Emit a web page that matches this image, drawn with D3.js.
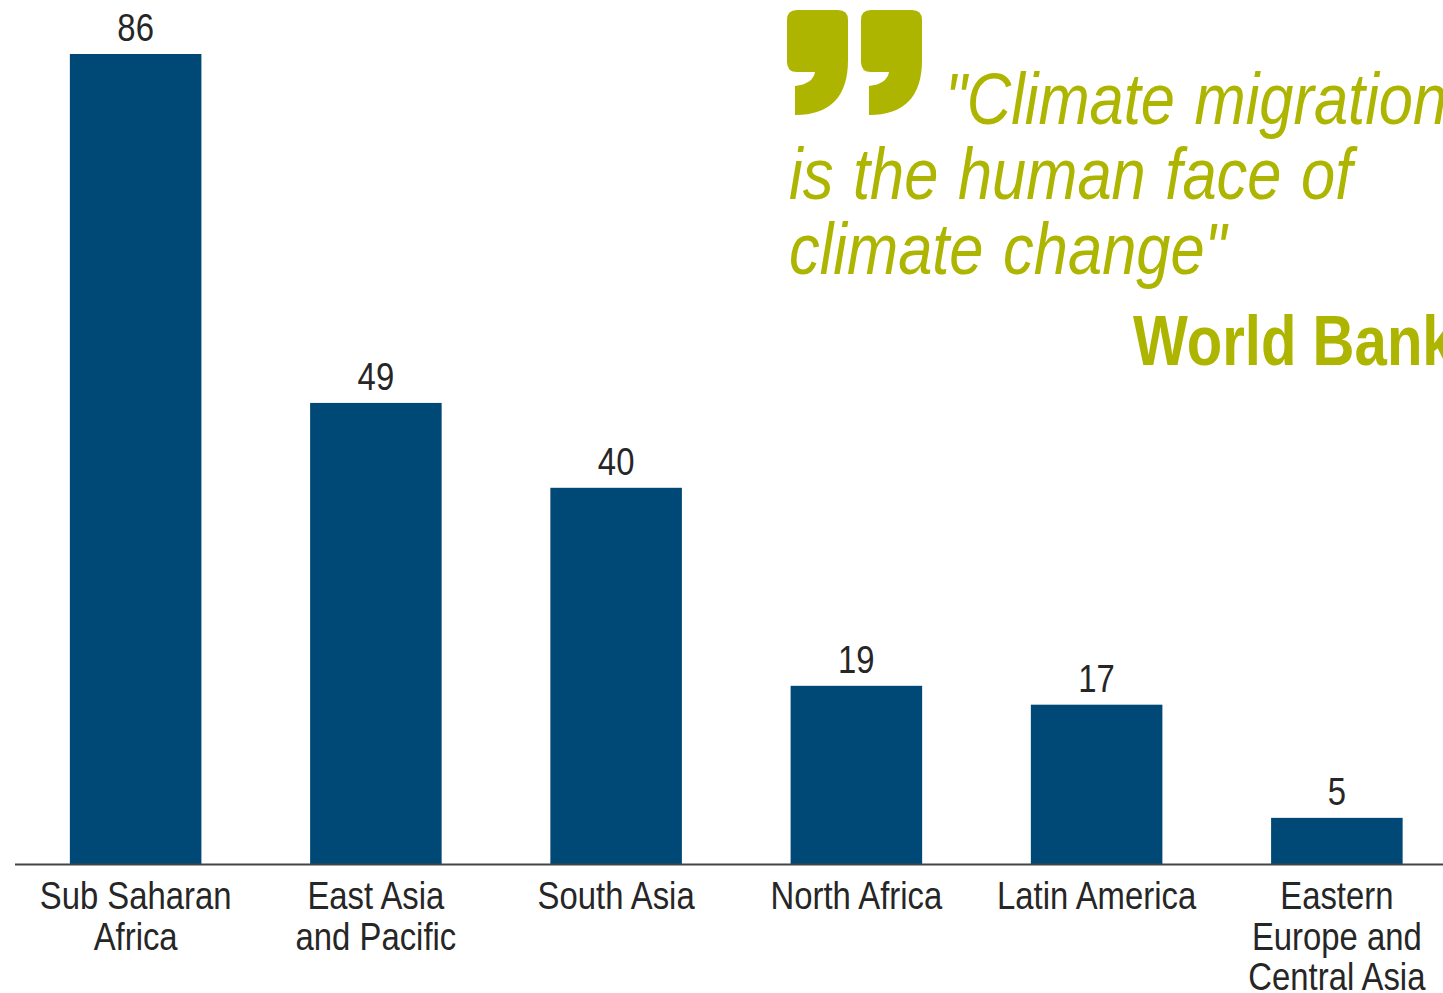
<!DOCTYPE html>
<html>
<head>
<meta charset="utf-8">
<script src="https://cdn.jsdelivr.net/npm/d3@7"></script>
<style>
html, body { margin: 0; padding: 0; background: #fff; overflow: hidden; }
svg { display: block; }
text { font-family: "Liberation Sans", Arial, sans-serif; }
</style>
</head>
<body>
<svg width="1443" height="993"></svg>
<script>
const regions = [
    ["Sub Saharan", "Africa"],
    ["East Asia", "and Pacific"],
    ["South Asia"],
    ["North Africa"],
    ["Latin America"],
    ["Eastern", "Europe and", "Central Asia"]
];
const migrants = [86, 49, 40, 19, 17, 5];
const quoteLines = ["\"Climate migration", "is the human face of", "climate change\""];
const quoteSource = "World Bank";

const svg = d3.select("svg");
const blue = "#004876", green = "#adb500", ink = "#262626";

const x = d3.scaleBand().domain(d3.range(regions.length)).range([15.5, 1457]).paddingInner(0.4525).paddingOuter(0.2263);
const y = d3.scaleLinear().domain([0, 86]).range([865, 54]);

svg.selectAll("rect.bar")
    .data(migrants)
    .enter()
    .append("rect")
    .attr("class", "bar")
    .attr("x", (d, i) => x(i))
    .attr("y", d => y(d))
    .attr("width", x.bandwidth())
    .attr("height", d => y(0) - y(d))
    .attr("fill", blue);

svg.append("line")
    .attr("x1", 15).attr("x2", 1443)
    .attr("y1", 864.5).attr("y2", 864.5)
    .attr("stroke", "#444").attr("stroke-width", 2);

function narrow(sel, sx) {
    // the source type is condensed, so squeeze a regular face sideways
    sel.attr("transform", function() {
        const a = +this.getAttribute("data-x"), b = +this.getAttribute("data-y");
        return `translate(${a},${b}) scale(${sx},1)`;
    });
}

svg.selectAll("text.value")
    .data(migrants)
    .enter()
    .append("text")
    .attr("class", "value")
    .attr("data-x", (d, i) => x(i) + x.bandwidth() / 2)
    .attr("data-y", d => y(d) - 13)
    .attr("text-anchor", "middle")
    .attr("font-size", 38)
    .attr("fill", ink)
    .text(d => d)
    .call(narrow, 0.865);

regions.forEach((lines, i) => {
    lines.forEach((line, j) => {
        svg.append("text")
            .attr("data-x", x(i) + x.bandwidth() / 2)
            .attr("data-y", 909 + j * 40.5)
            .attr("text-anchor", "middle")
            .attr("font-size", 38)
            .attr("fill", ink)
            .text(line)
            .call(narrow, 0.865);
    });
});

// closing quote mark glyphs
[787, 861].forEach(left => {
    svg.append("path")
        .attr("transform", `translate(${left},10)`)
        .attr("fill", green)
        .attr("d", "M10 0H51Q61 0 61 10V50Q61 105 8 105V76Q26 74 28 62H10Q0 62 0 52V10Q0 0 10 0Z");
});

quoteLines.forEach((line, i) => {
    svg.append("text")
        .attr("data-x", i === 0 ? 945 : 789)
        .attr("data-y", [124, 199, 274][i])
        .attr("font-size", 72)
        .attr("font-style", "italic")
        .attr("word-spacing", 3)
        .attr("fill", green)
        .text(line)
        .call(narrow, 0.853);
});

svg.append("text")
    .attr("data-x", 1133)
    .attr("data-y", 365)
    .attr("font-size", 70)
    .attr("font-weight", "bold")
    .attr("fill", green)
    .text(quoteSource)
    .call(narrow, 0.83);
</script>
</body>
</html>
